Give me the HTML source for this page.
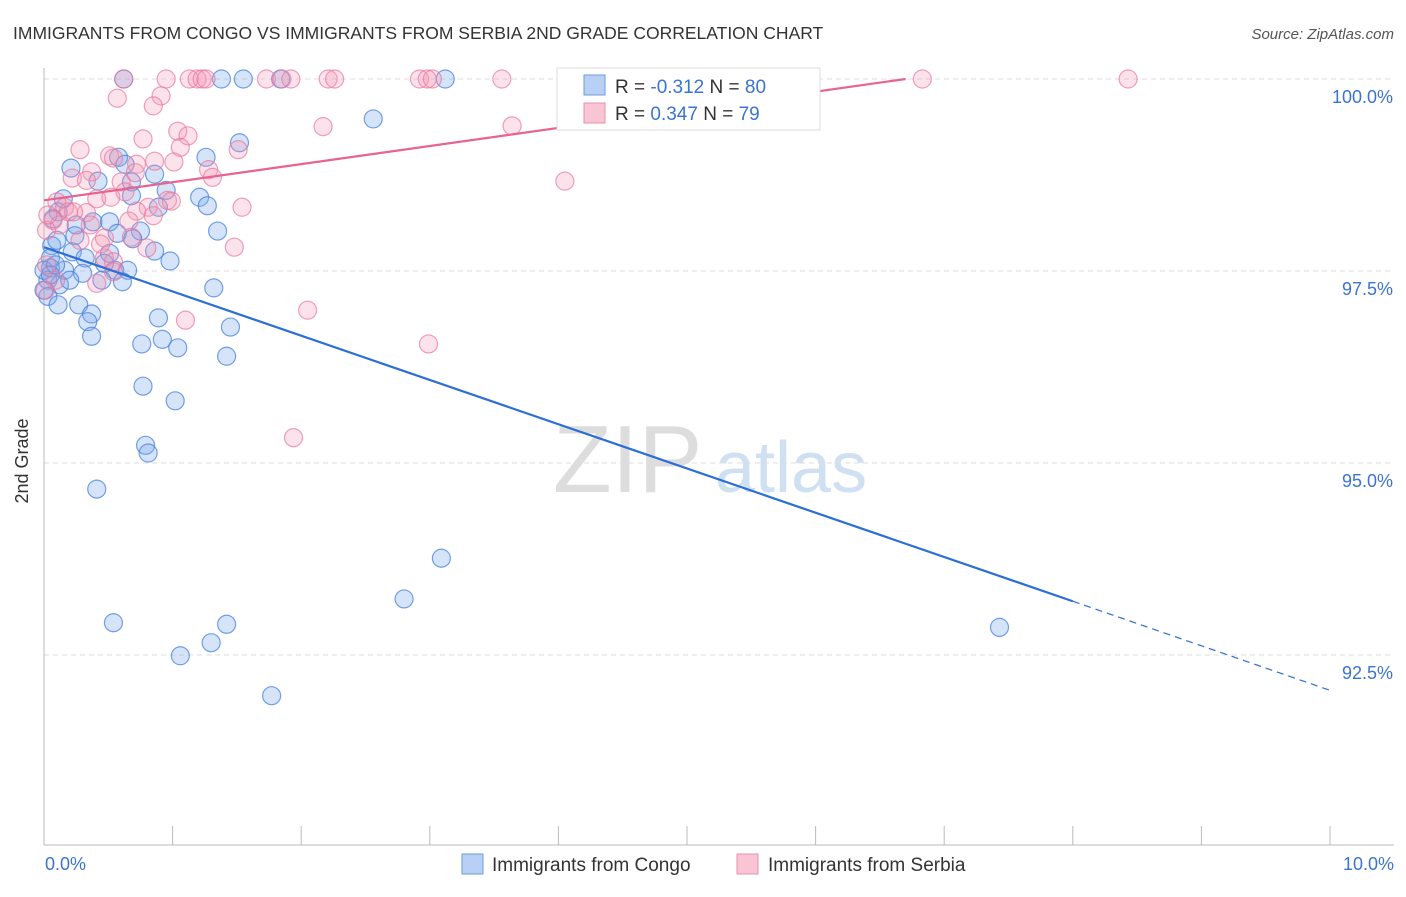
<!DOCTYPE html>
<html><head><meta charset="utf-8"><style>
body{margin:0;background:#fff;font-family:"Liberation Sans",sans-serif}
svg text{font-family:"Liberation Sans",sans-serif}
</style></head><body>
<svg width="1406" height="892" viewBox="0 0 1406 892">
<text x="13" y="39" font-size="17.5" fill="#333">IMMIGRANTS FROM CONGO VS IMMIGRANTS FROM SERBIA 2ND GRADE CORRELATION CHART</text>
<text x="1394" y="39" font-size="15" fill="#555" font-style="italic" text-anchor="end">Source: ZipAtlas.com</text>
<g>
<text x="553" y="492" font-size="96" fill="#ddd" font-family="Liberation Serif,serif">ZIP</text>
<text x="715" y="492" font-size="72" fill="#cfe0f3">atlas</text>
</g>
<g id="grid"></g><g id="axes"></g><g id="pts"></g><g id="trends"></g>
<g>
<rect x="557" y="68" width="263" height="62" fill="#fff" stroke="#ddd"/>
<rect x="584" y="75" width="21" height="20" fill="#b7d0f3" stroke="#6d9be0"/>
<rect x="584" y="103" width="21" height="20" fill="#f9c4d4" stroke="#ea8fad"/>
<text x="615" y="93" font-size="19" fill="#333">R = <tspan fill="#3b74d0">-0.312</tspan>   N = <tspan fill="#3b74d0">80</tspan></text>
<text x="615" y="120" font-size="19" fill="#333">R =  <tspan fill="#3b74d0">0.347</tspan>   N = <tspan fill="#3b74d0">79</tspan></text>
</g>
<g>
<rect x="462" y="854" width="21" height="20" fill="#b7d0f3" stroke="#6d9be0"/>
<text x="492" y="871" font-size="19" fill="#333">Immigrants from Congo</text>
<rect x="737" y="854" width="21" height="20" fill="#f9c4d4" stroke="#ea8fad"/>
<text x="768" y="871" font-size="19" fill="#333">Immigrants from Serbia</text>
</g>
<text x="23" y="456" font-size="18" fill="#333" transform="rotate(-90 28 456)" text-anchor="middle">2nd Grade</text>
<text x="45" y="870" font-size="18" fill="#3b74d0">0.0%</text>
<text x="1394" y="870" font-size="18" fill="#3b74d0" text-anchor="end">10.0%</text>
</svg>
<script>
const yTicks=[100,97.5,95,92.5];
const yTickLabels=["100.0%","97.5%","95.0%","92.5%"];
const xTicks=[0,1,2,3,4,5,6,7,8,9,10];
const congoX=[0.62,1.38,1.55,1.84,3.12,2.56,1.52,1.26,0.58,0.21,0.42,0.63,0.86,0.95,0.68,1.21,1.27,0.15,0.11,0.89,0.68,0.38,0.51,0.25,0.07,0.75,1.35,0.06,0.24,0.10,0.57,0.69,0.86,0.22,0.32,0.51,0.98,0.05,0.16,0.30,0.55,0.65,0.05,0.45,0.03,0.61,1.32,0.12,0.03,0.11,0.27,0.37,0.34,0.89,1.45,0.37,0.76,0.92,1.04,1.42,0.77,1.02,0.79,0.81,0.41,3.09,2.80,0.54,1.42,1.30,1.06,1.77,7.43,0.00,0.00,0.05,0.09,0.20,0.47];
const congoY=[100,100,100,100,100,99.48,99.17,98.98,98.98,98.84,98.67,98.89,98.76,98.55,98.66,98.46,98.35,98.44,98.27,98.33,98.48,98.14,98.14,98.10,98.18,98.02,98.02,97.83,97.96,97.90,97.99,97.92,97.76,97.75,97.67,97.73,97.63,97.67,97.51,97.47,97.51,97.51,97.54,97.38,97.38,97.36,97.28,97.32,97.17,97.06,97.06,96.94,96.84,96.89,96.77,96.65,96.55,96.61,96.50,96.39,96.00,95.81,95.23,95.13,94.66,93.76,93.23,92.92,92.90,92.66,92.49,91.97,92.86,97.51,97.25,97.45,97.58,97.38,97.60];
const serbiaX=[0.62,0.95,1.13,1.19,1.23,1.26,1.73,1.85,1.92,2.21,2.26,2.92,2.98,3.02,3.56,6.83,8.43,0.57,0.91,0.85,0.28,1.04,1.12,0.77,1.06,1.51,2.17,3.64,4.05,0.51,0.54,0.86,0.72,1.01,0.37,0.22,0.33,0.60,1.28,1.31,0.71,0.63,0.41,0.52,0.10,0.16,0.19,0.33,0.96,0.99,0.81,1.54,0.72,0.85,0.66,1.48,0.47,0.68,0.80,0.47,0.54,0.54,0.41,0.07,0.12,0.02,2.05,2.99,1.10,1.94,0.03,0.09,0.02,0.01,0.44,0.23,0.36,0.28];
const serbiaY=[100,100,100,100,100,100,100,100,100,100,100,100,100,100,100,100,100,99.75,99.78,99.65,99.08,99.32,99.26,99.22,99.11,99.08,99.38,99.39,98.67,99.00,98.97,98.93,98.89,98.92,98.79,98.71,98.68,98.66,98.82,98.72,98.78,98.53,98.44,98.46,98.40,98.33,98.27,98.26,98.42,98.41,98.33,98.33,98.28,98.22,98.15,97.81,97.93,97.94,97.80,97.67,97.62,97.49,97.34,98.16,98.10,98.03,96.99,96.55,96.86,95.33,98.23,97.38,97.58,97.25,97.85,98.27,98.10,97.90];
const congoTrendX=[0,8,10];
const congoTrendY=[97.81,93.20,92.04];
const serbiaTrendX=[0,6.7];
const serbiaTrendY=[98.42,100];
const NS="http://www.w3.org/2000/svg";
const xs=v=>44+v*128.6;
const ys=v=>79+(100-v)*76.8;
function mk(tag,attrs,parent){const e=document.createElementNS(NS,tag);for(const k in attrs)e.setAttribute(k,attrs[k]);document.getElementById(parent).appendChild(e);return e;}
yTicks.forEach((t,i)=>{
 const l=mk('line',{x1:44,x2:1394,y1:ys(t),y2:ys(t),stroke:'#ddd','stroke-dasharray':'5,4'},'grid');
 
 
 const tx=mk('text',{x:1393,y:ys(t)+24,'font-size':18,fill:'#3b74d0','text-anchor':'end'},'grid');
 tx.textContent=yTickLabels[i];
 
 
});
const ya=mk('line',{x1:44,x2:44,y1:68,y2:845,stroke:'#bbb'},'axes');


const xa=mk('line',{x1:44,x2:1394,y1:845,y2:845,stroke:'#bbb'},'axes');


xTicks.forEach(t=>{
 const l=mk('line',{x1:xs(t),x2:xs(t),y1:826,y2:845,stroke:'#bbb'},'axes');
 
 
});
function pts(X,Y,fill,stroke,name){
 X.forEach((x,i)=>{
  const c=mk('circle',{cx:xs(x),cy:ys(Y[i]),r:9,fill:fill,stroke:stroke,'stroke-width':1.2},'pts');
  
  
 });
}
pts(congoX,congoY,'rgba(120,165,235,0.3)','rgba(70,130,220,0.75)','congo-point');
pts(serbiaX,serbiaY,'rgba(245,150,180,0.28)','rgba(232,120,160,0.7)','serbia-point');
const b1=mk('line',{x1:xs(congoTrendX[0]),y1:ys(congoTrendY[0]),x2:xs(congoTrendX[1]),y2:ys(congoTrendY[1]),stroke:'#2b6fd6','stroke-width':2.2},'trends');


const b2=mk('line',{x1:xs(congoTrendX[1]),y1:ys(congoTrendY[1]),x2:xs(congoTrendX[2]),y2:ys(congoTrendY[2]),stroke:'#2b6fd6','stroke-width':1.2,'stroke-dasharray':'7,5'},'trends');


const p1=mk('line',{x1:xs(serbiaTrendX[0]),y1:ys(serbiaTrendY[0]),x2:xs(serbiaTrendX[1]),y2:ys(serbiaTrendY[1]),stroke:'#e8638f','stroke-width':2.2},'trends');


</script>
</body></html>
